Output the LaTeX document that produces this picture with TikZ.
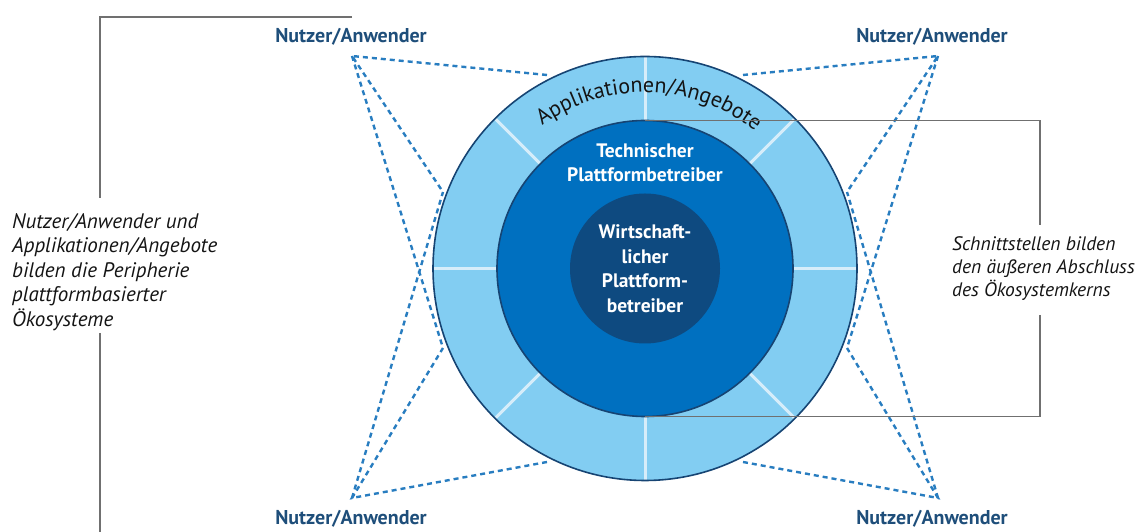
\documentclass[tikz,border=0pt]{standalone}
\usepackage{fontspec}
\setmainfont{PT Sans}
\usetikzlibrary{decorations.text}
\definecolor{ringlight}{RGB}{130,205,242}
\definecolor{ringmid}{RGB}{0,112,192}
\definecolor{ringdark}{RGB}{14,74,128}
\definecolor{ringedge}{RGB}{22,68,115}
\definecolor{divider}{RGB}{214,237,250}
\definecolor{dashblue}{RGB}{40,125,192}
\definecolor{labelblue}{RGB}{30,78,122}
\definecolor{bracketgray}{RGB}{112,112,112}
\definecolor{notecol}{RGB}{20,20,20}
\begin{document}
\begin{tikzpicture}[x=1pt,y=1pt,
  userlabel/.style={font=\fontsize{20}{22}\selectfont\bfseries, text=labelblue, inner sep=0pt},
  notetext/.style={font=\fontsize{21}{24.5}\selectfont\itshape, text=notecol, align=left, inner sep=0pt},
  ringtext/.style={font=\fontsize{19.5}{24.5}\selectfont\bfseries, text=white, align=center, inner sep=0pt},
  link/.style={draw=dashblue, line width=2.4pt, dash pattern=on 5pt off 4pt},
  bracket/.style={draw=bracketgray, line width=1.2pt},
  divline/.style={draw=divider, line width=3pt}]
\useasboundingbox (0,0) rectangle (1141,532);
\coordinate (C) at (645,263.5);
% rings
\fill[ringlight] (C) circle[radius=212];
\foreach \a in {0,45,...,315} \draw[divline] (C) ++(\a:148) -- ++(\a:64);
\draw[ringedge, line width=1.6pt] (C) circle[radius=212];
\fill[ringmid, draw=ringedge, line width=1.6pt] (C) circle[radius=148];
\fill[ringdark] (C) circle[radius=75];
% arc text
\path[decorate, decoration={text along path, text align=center,
  text={|\fontsize{22}{22}\selectfont\color{notecol}|Applikationen/Angebote}}]
  (C) ++(158.5:176) arc[start angle=158.5, end angle=18.5, radius=176];
% ring texts
\node[ringtext] (tech) at (645,369.5) {Technischer\\Plattformbetreiber};
\node[ringtext] (wirt) at (C) {Wirtschaft-\\licher\\Plattform-\\betreiber};
% user labels
\node[userlabel] (uTL) at (351,495) {Nutzer/Anwender};
\node[userlabel] (uTR) at (932,495) {Nutzer/Anwender};
\node[userlabel] (uBL) at (351,13) {Nutzer/Anwender};
\node[userlabel] (uBR) at (932,13) {Nutzer/Anwender};
% vertices
\coordinate (vTL) at (352,476);
\coordinate (vTR) at (938,476);
\coordinate (vBL) at (352,34);
\coordinate (vBR) at (938,34);
% end points on ring
\coordinate (eTL) at (547,457);
\coordinate (eUL) at (443,340);
\coordinate (eLL) at (443,184);
\coordinate (eBL) at (547,70);
\coordinate (eTR) at (743,457);
\coordinate (eUR) at (847,340);
\coordinate (eLR) at (847,184);
\coordinate (eBR) at (743,70);
% dashed links
\draw[link] (eTL) -- (vTL) -- (eUL);
\draw[link] (vTL) -- (eLL);
\draw[link] (eBL) -- (vBL) -- (eLL);
\draw[link] (vBL) -- (eUL);
\draw[link] (eTR) -- (vTR) -- (eUR);
\draw[link] (vTR) -- (eLR);
\draw[link] (eBR) -- (vBR) -- (eLR);
\draw[link] (vBR) -- (eUR);
% notes
\node[notetext, anchor=west] (noteL) at (12,260) {Nutzer/Anwender und\\Applikationen/Angebote\\bilden die Peripherie\\plattformbasierter\\Ökosysteme};
\node[notetext, anchor=west, font=\fontsize{19.5}{23}\selectfont\itshape] (noteR) at (952,263) {Schnittstellen bilden\\den äußeren Abschluss\\des Ökosystemkerns};
% brackets
\coordinate (bL1) at (352,515);
\coordinate (bL2) at (100,515);
\coordinate (bL3) at (100,334);
\coordinate (bL4) at (100,199);
\coordinate (bL5) at (100,0);
\draw[bracket] (bL1) -- (bL2) -- (bL3);
\draw[bracket] (bL4) -- (bL5);
\coordinate (bR1) at (645,411.5);
\coordinate (bR2) at (1040,411.5);
\coordinate (bR3) at (1040,307);
\coordinate (bR4) at (1040,217);
\coordinate (bR5) at (1040,115.5);
\coordinate (bR6) at (645,115.5);
\draw[bracket] (bR1) -- (bR2) -- (bR3);
\draw[bracket] (bR4) -- (bR5) -- (bR6);
\end{tikzpicture}
\end{document}
